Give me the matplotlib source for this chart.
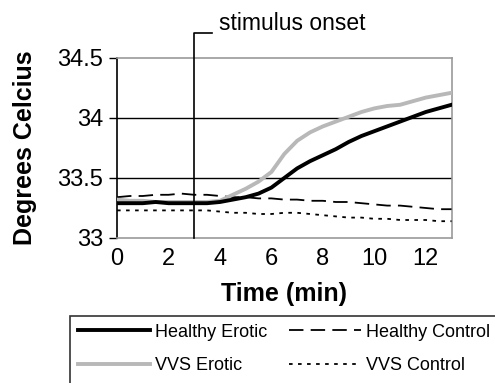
import numpy as np
import matplotlib
matplotlib.use("Agg")
import matplotlib.pyplot as plt
from matplotlib.patches import Rectangle

plt.rcParams['font.family'] = ['Liberation Sans', 'DejaVu Sans']

# time in minutes, sampled every half minute
time_min = np.arange(0, 13.01, 0.5)

healthy_erotic = [33.29, 33.29, 33.29, 33.30, 33.29, 33.29, 33.29, 33.29, 33.30,
                  33.32, 33.34, 33.37, 33.42, 33.50, 33.58, 33.64, 33.69, 33.74,
                  33.80, 33.85, 33.89, 33.93, 33.97, 34.01, 34.05, 34.08, 34.11]
vvs_erotic = [33.32, 33.31, 33.31, 33.30, 33.30, 33.30, 33.30, 33.30, 33.31,
              33.36, 33.41, 33.47, 33.55, 33.70, 33.81, 33.88, 33.93, 33.97,
              34.01, 34.05, 34.08, 34.10, 34.11, 34.14, 34.17, 34.19, 34.21]
healthy_control = [33.34, 33.35, 33.35, 33.36, 33.36, 33.37, 33.36, 33.36, 33.35,
                   33.34, 33.34, 33.33, 33.33, 33.32, 33.32, 33.31, 33.31, 33.30,
                   33.30, 33.29, 33.28, 33.27, 33.27, 33.26, 33.25, 33.24, 33.24]
vvs_control = [33.23, 33.23, 33.23, 33.23, 33.23, 33.23, 33.23, 33.23, 33.22,
               33.21, 33.21, 33.20, 33.20, 33.21, 33.21, 33.20, 33.19, 33.18,
               33.17, 33.17, 33.16, 33.16, 33.15, 33.15, 33.15, 33.14, 33.14]

stimulus_onset = 3.0
x_ticks = [0, 2, 4, 6, 8, 10, 12]
y_ticks = [33, 33.5, 34, 34.5]
y_tick_labels = ["33", "33.5", "34", "34.5"]

W, H = 495, 383
fig = plt.figure(figsize=(W / 100, H / 100), dpi=100)
ax = fig.add_axes([0.2364, 0.3786, 0.6758, 0.47])

for y in [33.5, 34]:
    ax.axhline(y, color='black', lw=1.0, zorder=1)

he, = ax.plot(time_min, healthy_erotic, color='black', lw=2.8,
              label='Healthy Erotic', zorder=4)
hc, = ax.plot(time_min, healthy_control, color='black', lw=1.3, dashes=(8, 4),
              label='Healthy Control', zorder=3)
ve, = ax.plot(time_min, vvs_erotic, color='#b8b8b8', lw=2.8,
              label='VVS Erotic', zorder=3)
vc, = ax.plot(time_min, vvs_control, color='black', lw=1.3, dashes=(2, 3),
              label='VVS Control', zorder=3)

# stimulus onset marker
ax.plot([stimulus_onset, stimulus_onset, stimulus_onset + 0.7],
        [33, 34.71, 34.71], color='black', lw=1.2, clip_on=False, zorder=5)
ax.text(stimulus_onset + 0.98, 34.79, 'stimulus onset', fontsize=16.5,
        va='center', ha='left')

ax.set_xlim(0, 13)
ax.set_ylim(33, 34.5)
ax.set_xticks(x_ticks)
ax.set_yticks(y_ticks)
ax.set_yticklabels(y_tick_labels)
ax.tick_params(axis='x', length=0, labelsize=17, pad=7)
ax.tick_params(axis='y', length=6, width=1, labelsize=17, pad=4)

for side in ['top', 'right', 'bottom']:
    ax.spines[side].set_color('#999999')
    ax.spines[side].set_linewidth(1.2)
ax.spines['left'].set_color('black')
ax.spines['left'].set_linewidth(1.2)

ax.set_xlabel('Time (min)', fontsize=18, fontweight='bold')
ax.xaxis.set_label_coords(0.5, -0.245)
ax.set_ylabel('Degrees Celcius', fontsize=18, fontweight='bold')
ax.yaxis.set_label_coords(-0.238, 0.5)

# legend box runs off the right and bottom edges in the original
fig.add_artist(Rectangle((70 / W, -0.1), 1.0, 1 - 316 / H + 0.1,
                         transform=fig.transFigure, fill=False,
                         edgecolor='#333333', lw=1.2))

# column-major fill: rows read Healthy Erotic / Healthy Control, VVS Erotic / VVS Control
leg = ax.legend([he, ve, hc, vc],
                ['Healthy Erotic', 'VVS Erotic', 'Healthy Control', 'VVS Control'],
                loc='upper left', bbox_to_anchor=(70 / W, 1 - 316 / H),
                bbox_transform=fig.transFigure, ncol=2, fontsize=13,
                handlelength=4.0, handletextpad=0.28, columnspacing=1.2,
                labelspacing=0.9, borderpad=0.42, borderaxespad=0,
                frameon=False)

fig.savefig('out.png', dpi=100)
